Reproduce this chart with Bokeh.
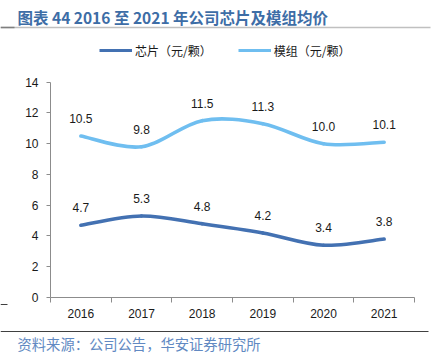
from bokeh.plotting import figure
from bokeh.models import Range1d, FixedTicker, Legend, LegendItem, ColumnDataSource, Label
from bokeh.core.properties import value
from bokeh.embed import file_html
from bokeh.resources import INLINE

# ---- data ----
years = ["2016", "2017", "2018", "2019", "2020", "2021"]
chip_price = [4.7, 5.3, 4.8, 4.2, 3.4, 3.8]
module_price = [10.5, 9.8, 11.5, 11.3, 10.0, 10.1]
series_names = ["芯片（元/颗）", "模组（元/颗）"]
y_ticks = [0, 2, 4, 6, 8, 10, 12, 14]
title_text = "图表 44 2016 至 2021 年公司芯片及模组均价"
source_text = "资料来源：公司公告，华安证券研究所"

# ---- styles / geometry (pixels) ----
CHIP = "#4371B2"
MODULE = "#6FBEF0"
AXIS = "#8C8C8C"
TXT = "#1A1A1A"
LAT = "Liberation Sans"
CJK = "Noto Sans CJK SC"

W, H = 434, 364
PL, PR, PT, PB = 50, 414, 81.7, 297   # plot-area edges on the canvas

n = len(years)
kx = (PR - PL) / n
ky = (PB - PT) / (y_ticks[-1] - y_ticks[0])
x_range = Range1d(-PL / kx, n + (W - PR) / kx)
y_range = Range1d(y_ticks[0] - (H - PB) / ky, y_ticks[-1] + PT / ky)

p = figure(width=W, height=H, output_backend="svg", toolbar_location=None,
           x_range=x_range, y_range=y_range,
           min_border_left=0, min_border_right=0, min_border_top=0, min_border_bottom=0)
p.outline_line_color = None
p.xgrid.visible = False
p.ygrid.visible = False
p.background_fill_color = "white"
p.border_fill_color = "white"

centers = [i + 0.5 for i in range(n)]

xa = p.xaxis[0]
xa.fixed_location = y_ticks[0]
xa.bounds = (0, n)
xa.ticker = FixedTicker(ticks=centers, minor_ticks=list(range(n + 1)))
xa.major_label_overrides = {c: y for c, y in zip(centers, years)}
xa.major_tick_out = 0
xa.major_tick_in = 0
xa.minor_tick_out = 5
xa.minor_tick_in = 0
xa.minor_tick_line_color = AXIS
xa.axis_line_color = AXIS
xa.major_label_text_font = LAT
xa.major_label_text_font_size = "12px"
xa.major_label_text_color = TXT
xa.major_label_standoff = 6

ya = p.yaxis[0]
ya.fixed_location = 0
ya.bounds = (y_ticks[0], y_ticks[-1])
ya.ticker = FixedTicker(ticks=y_ticks)
ya.major_tick_out = 4
ya.major_tick_in = 0
ya.minor_tick_out = 0
ya.minor_tick_in = 0
ya.major_tick_line_color = AXIS
ya.axis_line_color = AXIS
ya.major_label_text_font = LAT
ya.major_label_text_font_size = "12px"
ya.major_label_text_color = TXT
ya.major_label_standoff = 8


def smooth_segments(xs, ys):
    m = len(xs)
    seg = dict(x0=[], y0=[], x1=[], y1=[], cx0=[], cy0=[], cx1=[], cy1=[])
    for i in range(m - 1):
        xp, yp = (xs[i - 1], ys[i - 1]) if i > 0 else (xs[i], ys[i])
        xn, yn = (xs[i + 2], ys[i + 2]) if i + 2 < m else (xs[i + 1], ys[i + 1])
        seg["x0"].append(xs[i]); seg["y0"].append(ys[i])
        seg["x1"].append(xs[i + 1]); seg["y1"].append(ys[i + 1])
        seg["cx0"].append(xs[i] + (xs[i + 1] - xp) / 6)
        seg["cy0"].append(ys[i] + (ys[i + 1] - yp) / 6)
        seg["cx1"].append(xs[i + 1] - (xn - xs[i]) / 6)
        seg["cy1"].append(ys[i + 1] - (yn - ys[i]) / 6)
    return ColumnDataSource(seg)


legend_items = []
for vals, color, name in [(chip_price, CHIP, series_names[0]), (module_price, MODULE, series_names[1])]:
    p.bezier(x0="x0", y0="y0", x1="x1", y1="y1", cx0="cx0", cy0="cy0", cx1="cx1", cy1="cy1",
             source=smooth_segments(centers, vals), line_color=color, line_width=3.6, line_cap="round")
    # single-point line: draws nothing in the plot, gives the legend its swatch
    r = p.line(x=centers[:1], y=vals[:1], line_color=color, line_width=3.2)
    legend_items.append(LegendItem(label=name, renderers=[r]))
    p.text(x=centers, y=vals, text=[f"{v:.1f}" for v in vals], text_align="center",
           text_baseline="middle", y_offset=-17.5, text_font=value(LAT),
           text_font_size="12px", text_color=TXT)

legend = Legend(items=legend_items, orientation="horizontal", location=(99, H - 60),
                glyph_width=33, glyph_height=20, label_height=20, label_standoff=3, spacing=26,
                padding=0, margin=0, border_line_color=None, background_fill_alpha=0,
                label_text_font=CJK, label_text_font_size="12px", label_text_color=TXT)
p.add_layout(legend)


# ---- page decorations: canvas pixel -> data coordinates ----
def dx(px):
    return x_range.start + px / kx


def dy(py):
    return y_range.end - py / ky


p.add_layout(Label(x=17, y=H - 16, x_units="screen", y_units="screen", text=title_text,
                   text_font=CJK, text_font_size="15.5px", text_font_style="bold",
                   text_color="#3D6DA6", text_baseline="middle"))
p.segment(x0=[dx(0)], y0=[dy(27)], x1=[dx(430)], y1=[dy(27)], line_color="#C0C0C0", line_width=1.5)
p.segment(x0=[dx(0)], y0=[dy(27)], x1=[dx(14)], y1=[dy(27)], line_color="#7F7F7F", line_width=1.5)
p.segment(x0=[dx(0)], y0=[dy(304)], x1=[dx(7)], y1=[dy(304)], line_color="#404040", line_width=1)
p.segment(x0=[dx(0)], y0=[dy(331)], x1=[dx(428)], y1=[dy(331)], line_color="#404040", line_width=1)
p.add_layout(Label(x=17, y=H - 343, x_units="screen", y_units="screen", text=source_text,
                   text_font=CJK, text_font_size="14.3px", text_color="#6189C2",
                   text_baseline="middle"))

open("out.html", "w").write(file_html(p, INLINE))
